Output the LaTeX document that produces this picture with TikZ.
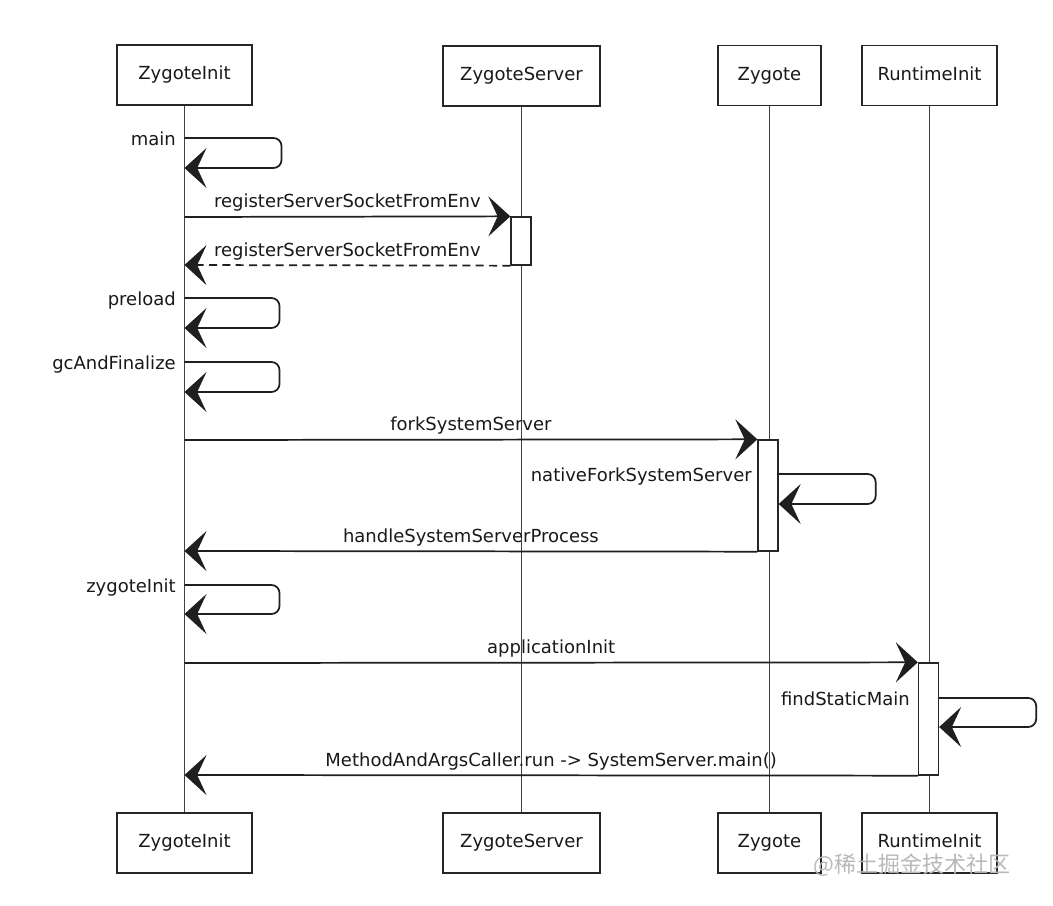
\documentclass[tikz,border=0pt]{standalone}
\usepackage{fontspec}
\setmainfont{DejaVu Sans}
\newfontfamily\cjkfont{Noto Sans CJK SC}
\usetikzlibrary{arrows.meta}
\begin{document}
\begin{tikzpicture}[x=0.75pt,y=-0.75pt,
  txt/.style={font=\fontsize{13.5}{16}\selectfont, text=black!90},
  pbox/.style={txt, draw=black!85, line width=1.1pt, fill=white, minimum height=45pt, inner sep=0pt, text height=10pt, text depth=3.2pt},
  actbox/.style={draw=black!85, line width=1pt, fill=white, minimum width=15pt, inner sep=0pt},
  life/.style={draw=black!75, line width=0.8pt},
  msg/.style={draw=black!88, line width=1.3pt, -{Stealth[length=16.5pt,width=30pt,inset=7pt]}},
  ret/.style={msg, dash pattern=on 6pt off 4pt},
  selfcall/.style={msg, rounded corners=6pt},
  mlbl/.style={txt, inner sep=0pt, anchor=base, yshift=7pt},
  slbl/.style={txt, inner sep=0pt, anchor=base east}]
\useasboundingbox (0,0) rectangle (1053,906);
\fill[white] (0,0) rectangle (1053,906);

% participants
\node[pbox, minimum width=101.25pt] (zi) at (184.5,75) {ZygoteInit};
\node[pbox, minimum width=117.75pt] (zs) at (521.5,76) {ZygoteServer};
\node[pbox, minimum width=77.25pt] (zy) at (769.5,75.5) {Zygote};
\node[pbox, minimum width=101.25pt] (ri) at (929.5,75.5) {RuntimeInit};

\node[pbox, minimum width=101.25pt] (zib) at (184.5,843) {ZygoteInit};
\node[pbox, minimum width=117.75pt] (zsb) at (521.5,843) {ZygoteServer};
\node[pbox, minimum width=77.25pt] (zyb) at (769.5,843) {Zygote};
\node[pbox, minimum width=101.25pt] (rib) at (929.5,843) {RuntimeInit};

% lifelines
\draw[life] (zi.south) -- (zib.north);
\draw[life] (zs.south) -- (zsb.north);
\draw[life] (zy.south) -- (zyb.north);
\draw[life] (ri.south) -- (rib.north);

% activation boxes
\node[actbox, minimum height=36pt] (a1) at (521,241) {};
\node[actbox, minimum height=83.25pt] (a2) at (768,495.5) {};
\node[actbox, minimum height=84pt] (a3) at (928.5,719) {};

% main
\coordinate (m1a) at (zi.south |- 0,138);
\coordinate (m1b) at (zi.south |- 0,168);
\draw[selfcall] (m1a) -- ++(97,0) -- ++(0,30) -- (m1b);
\node[slbl] (t-main) at (176,145) {main};

% registerServerSocketFromEnv
\coordinate (r1a) at (zi.south |- 0,217);
\draw[msg] (r1a) -- node[mlbl] (t-reg) {registerServerSocketFromEnv} (a1.north west);
\coordinate (r2b) at (zi.south |- 0,265);
\draw[ret] (a1.south west) -- node[mlbl] (t-regr) {registerServerSocketFromEnv} (r2b);

% preload
\coordinate (p1a) at (zi.south |- 0,298);
\coordinate (p1b) at (zi.south |- 0,328);
\draw[selfcall] (p1a) -- ++(95,0) -- ++(0,30) -- (p1b);
\node[slbl] (t-pre) at (176,305) {preload};

% gcAndFinalize
\coordinate (g1a) at (zi.south |- 0,362);
\coordinate (g1b) at (zi.south |- 0,392);
\draw[selfcall] (g1a) -- ++(95,0) -- ++(0,30) -- (g1b);
\node[slbl] (t-gc) at (176,369) {gcAndFinalize};

% forkSystemServer
\coordinate (f1a) at (zi.south |- 0,440);
\draw[msg] (f1a) -- node[mlbl] (t-fork) {forkSystemServer} (a2.north west);

% nativeForkSystemServer
\coordinate (n1a) at (a2.east |- 0,474);
\coordinate (n1b) at (a2.east |- 0,504);
\draw[selfcall] (n1a) -- ++(97,0) -- ++(0,30) -- (n1b);
\node[slbl] (t-native) at (752,481) {nativeForkSystemServer};

% handleSystemServerProcess
\coordinate (h1b) at (zi.south |- 0,551);
\draw[msg] (a2.south west) -- node[mlbl] (t-handle) {handleSystemServerProcess} (h1b);

% zygoteInit
\coordinate (z1a) at (zi.south |- 0,585);
\coordinate (z1b) at (zi.south |- 0,614);
\draw[selfcall] (z1a) -- ++(95,0) -- ++(0,29) -- (z1b);
\node[slbl] (t-zinit) at (176,592) {zygoteInit};

% applicationInit
\coordinate (ap1a) at (zi.south |- 0,663);
\draw[msg] (ap1a) -- node[mlbl] (t-app) {applicationInit} (a3.north west);

% findStaticMain
\coordinate (fs1a) at (a3.east |- 0,698);
\coordinate (fs1b) at (a3.east |- 0,727);
\draw[selfcall] (fs1a) -- ++(97,0) -- ++(0,29) -- (fs1b);
\node[slbl] (t-find) at (910,705) {findStaticMain};

% MethodAndArgsCaller.run
\coordinate (mc1b) at (zi.south |- 0,775);
\draw[msg] (a3.south west) -- node[mlbl] (t-mac) {MethodAndArgsCaller.run -> SystemServer.main()} (mc1b);

% watermark
\node[font=\cjkfont\fontsize{16.5}{19}\selectfont, text=black!28, anchor=west, inner sep=0pt] (wm) at (813,865) {@稀土掘金技术社区};
\end{tikzpicture}
\end{document}
